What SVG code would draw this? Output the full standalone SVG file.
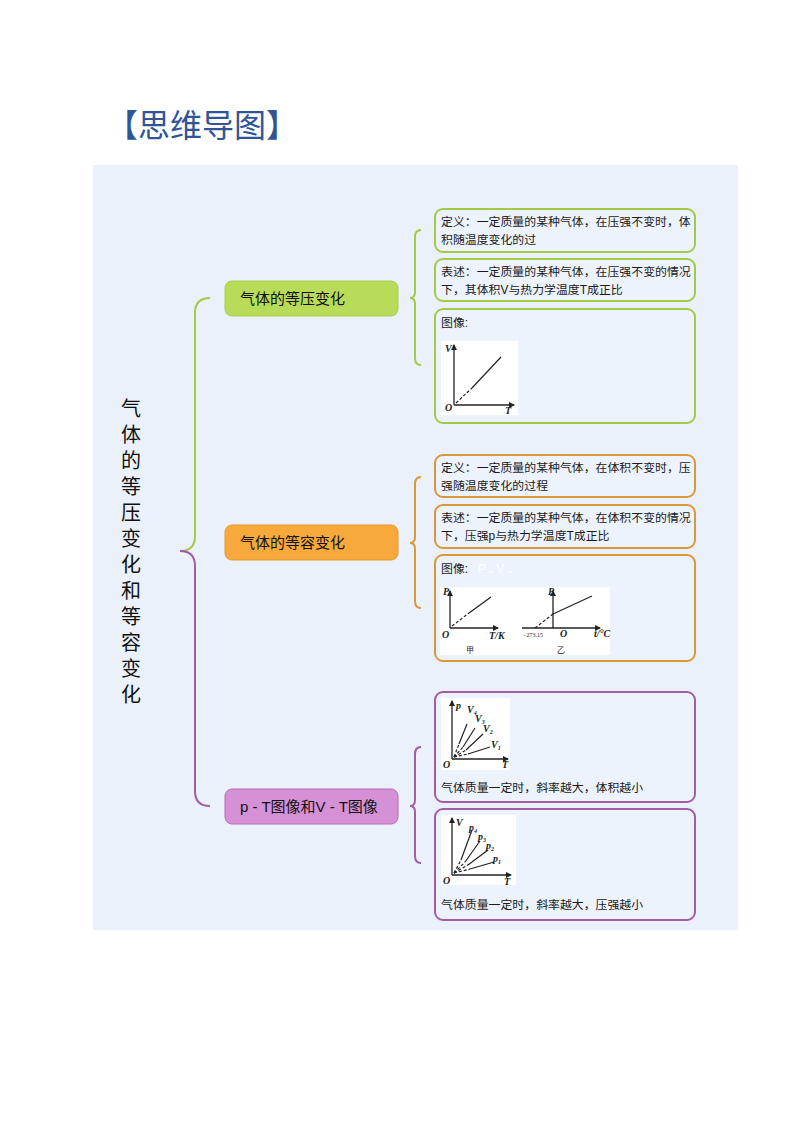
<svg xmlns="http://www.w3.org/2000/svg" width="800" height="1132" viewBox="0 0 800 1132">
<style>
.cjk{font-family:"Liberation Sans","Noto Sans CJK SC",sans-serif;}
.leaf{font-family:"Liberation Sans","Noto Sans CJK SC",sans-serif;font-size:11.9px;fill:#1a1a1a;}
.node{font-family:"Liberation Sans","Noto Sans CJK SC",sans-serif;font-size:15px;fill:#111;}
.gbox{fill:#edf3fc;stroke:#a3c94a;stroke-width:2;}
.obox{fill:#edf3fc;stroke:#d9983a;stroke-width:2;}
.pbox{fill:#edf3fc;stroke:#a45ca4;stroke-width:2;}
.ax{stroke:#222;stroke-width:1.3;fill:none;}
.ln{stroke:#222;stroke-width:1.2;fill:none;}
.dl{stroke:#222;stroke-width:1.2;fill:none;stroke-dasharray:3 2;}
.lab{font-family:"Liberation Serif",serif;font-style:italic;font-weight:bold;font-size:10px;fill:#222;}
.sub{font-family:"Liberation Serif",serif;font-size:6px;fill:#222;}
.conn{fill:none;stroke-width:2;}
</style>
<defs>
<marker id="arr" viewBox="0 0 6 6" refX="5" refY="3" markerWidth="5" markerHeight="5" orient="auto"><path d="M0,0 L6,3 L0,6 z" fill="#222"/></marker>
</defs>
<rect width="800" height="1132" fill="#ffffff"/>
<text x="106" y="137" class="cjk" font-size="32" fill="#2f5597">【思维导图】</text>
<rect x="93" y="165" width="645" height="765" fill="#eaf1fb"/>

<g id="root">
<text class="cjk" font-size="20" fill="#111" text-anchor="middle">
<tspan x="131" y="416">气</tspan><tspan x="131" y="442">体</tspan><tspan x="131" y="468">的</tspan><tspan x="131" y="494">等</tspan><tspan x="131" y="520">压</tspan><tspan x="131" y="546">变</tspan><tspan x="131" y="572">化</tspan><tspan x="131" y="598">和</tspan><tspan x="131" y="624">等</tspan><tspan x="131" y="650">容</tspan><tspan x="131" y="676">变</tspan><tspan x="131" y="702">化</tspan>
</text>
</g>

<g id="connectors">
<path class="conn" stroke="#a3c94a" d="M180,551 Q195,551 195,536 L195,313 Q195,298 210,298"/>
<path class="conn" stroke="#a45ca4" d="M180,551 Q195,551 195,566 L195,791 Q195,806 210,806"/>
<path class="conn" stroke="#a3c94a" d="M421,230 Q415,230 415,237 L415,292 Q415,298 410,298 Q415,298 415,304 L415,358 Q415,365 421,365"/>
<path class="conn" stroke="#d9983a" d="M421,477 Q415,477 415,484 L415,537 Q415,543 410,543 Q415,543 415,549 L415,601 Q415,608 421,608"/>
<path class="conn" stroke="#a45ca4" d="M421,747 Q415,747 415,754 L415,800 Q415,806 410,806 Q415,806 415,812 L415,856 Q415,863 421,863"/>
</g>

<g id="n1">
<rect x="225" y="281" width="173" height="35" rx="7" fill="#b8dc5a" stroke="#a8cf4c" stroke-width="1"/>
<text x="240" y="304" class="node">气体的等压变化</text>
</g>
<g id="n2">
<rect x="225" y="525" width="173" height="35" rx="7" fill="#f8a93b" stroke="#e9982c" stroke-width="1"/>
<text x="240" y="548" class="node">气体的等容变化</text>
</g>
<g id="n3">
<rect x="225" y="789" width="173" height="35" rx="7" fill="#d690d6" stroke="#b56bb5" stroke-width="1"/>
<text x="240" y="812" class="node">p - T图像和V - T图像</text>
</g>

<g id="g1">
<rect x="435" y="209" width="260" height="43" rx="8" class="gbox"/>
<text x="441" y="226" class="leaf">定义：一定质量的某种气体，在压强不变时，体</text>
<text x="441" y="244" class="leaf">积随温度变化的过</text>
</g>
<g id="g2">
<rect x="435" y="259" width="260" height="42" rx="8" class="gbox"/>
<text x="441" y="276" class="leaf">表述：一定质量的某种气体，在压强不变的情况</text>
<text x="441" y="294" class="leaf">下，其体积V与热力学温度T成正比</text>
</g>
<g id="g3">
<rect x="435" y="309" width="260" height="114" rx="8" class="gbox"/>
<text x="441" y="327" class="leaf">图像:</text>
<rect x="441" y="341" width="77" height="74" fill="#ffffff"/>
<line x1="454" y1="405" x2="454" y2="345" class="ax" marker-end="url(#arr)"/>
<line x1="454" y1="405" x2="514" y2="405" class="ax" marker-end="url(#arr)"/>
<line x1="456" y1="403" x2="472" y2="388" class="dl"/>
<line x1="472" y1="388" x2="501" y2="357" class="ln"/>
<text x="445" y="352" class="lab">V</text>
<text x="445" y="411" class="lab">O</text>
<text x="505" y="414" class="lab">T</text>
</g>

<g id="o1">
<rect x="435" y="455" width="260" height="42" rx="8" class="obox"/>
<text x="441" y="472" class="leaf">定义：一定质量的某种气体，在体积不变时，压</text>
<text x="441" y="490" class="leaf">强随温度变化的过程</text>
</g>
<g id="o2">
<rect x="435" y="505" width="260" height="43" rx="8" class="obox"/>
<text x="441" y="522" class="leaf">表述：一定质量的某种气体，在体积不变的情况</text>
<text x="441" y="540" class="leaf">下，压强p与热力学温度T成正比</text>
</g>
<g id="o3">
<rect x="435" y="555" width="260" height="106" rx="8" class="obox"/>
<text x="441" y="573" class="leaf">图像:</text>
<text x="478" y="573" class="leaf" fill="#ffffff" style="fill:#ffffff">P ₌ V ₌</text>
<rect x="440" y="587" width="170" height="68" fill="#ffffff"/>
<line x1="450" y1="628" x2="450" y2="591" class="ax" marker-end="url(#arr)"/>
<line x1="450" y1="628" x2="498" y2="628" class="ax" marker-end="url(#arr)"/>
<line x1="452" y1="626" x2="469" y2="613" class="dl"/>
<line x1="469" y1="613" x2="491" y2="597" class="ln"/>
<text x="443" y="595" class="lab" font-size="8">P</text>
<text x="442" y="638" class="lab" font-size="8">O</text>
<text x="489" y="639" class="lab" font-size="8" font-style="normal">T/K</text>
<text x="466" y="653" class="cjk" font-size="8" fill="#222">甲</text>
<line x1="553" y1="628" x2="553" y2="591" class="ax" marker-end="url(#arr)"/>
<line x1="522" y1="628" x2="600" y2="628" class="ax" marker-end="url(#arr)"/>
<line x1="535" y1="628" x2="553" y2="614" class="dl"/>
<line x1="553" y1="614" x2="592" y2="596" class="ln"/>
<text x="548" y="595" class="lab" font-size="8">P</text>
<text x="523" y="637" class="sub" font-size="7">−273.15</text>
<text x="560" y="637" class="lab" font-size="8">O</text>
<text x="594" y="637" class="lab" font-size="8" font-style="normal">t/°C</text>
<text x="557" y="653" class="cjk" font-size="8" fill="#222">乙</text>
</g>

<g id="p1">
<rect x="435" y="692" width="260" height="110" rx="8" class="pbox"/>
<rect x="441" y="698" width="69" height="72" fill="#ffffff"/>
<line x1="452" y1="759" x2="452" y2="701" class="ax" marker-end="url(#arr)"/>
<line x1="452" y1="759" x2="508" y2="759" class="ax" marker-end="url(#arr)"/>
<line x1="454" y1="757" x2="459" y2="744" class="dl"/><line x1="459" y1="744" x2="467" y2="724" class="ln"/>
<line x1="454" y1="757" x2="463" y2="747" class="dl"/><line x1="463" y1="747" x2="475" y2="728" class="ln"/>
<line x1="454" y1="757" x2="466" y2="750" class="dl"/><line x1="466" y1="750" x2="483" y2="734" class="ln"/>
<line x1="454" y1="757" x2="468" y2="754" class="dl"/><line x1="468" y1="754" x2="490" y2="747" class="ln"/>
<text x="456" y="709" class="lab" font-size="8">p</text>
<text x="467" y="713" class="lab" font-size="9" font-style="normal" font-weight="normal">V<tspan class="sub" font-size="5" dy="2">4</tspan></text>
<text x="475" y="722" class="lab" font-size="9" font-style="normal" font-weight="normal">V<tspan class="sub" font-size="5" dy="2">3</tspan></text>
<text x="483" y="732" class="lab" font-size="9" font-style="normal" font-weight="normal">V<tspan class="sub" font-size="5" dy="2">2</tspan></text>
<text x="491" y="748" class="lab" font-size="9" font-style="normal" font-weight="normal">V<tspan class="sub" font-size="5" dy="2">1</tspan></text>
<text x="443" y="768" class="lab">O</text>
<text x="502" y="768" class="lab" font-size="8">T</text>
<text x="441" y="792" class="leaf">气体质量一定时，斜率越大，体积越小</text>
</g>

<g id="p2">
<rect x="435" y="809" width="260" height="111" rx="8" class="pbox"/>
<rect x="441" y="815" width="75" height="70" fill="#ffffff"/>
<line x1="452" y1="875" x2="452" y2="818" class="ax" marker-end="url(#arr)"/>
<line x1="452" y1="875" x2="511" y2="875" class="ax" marker-end="url(#arr)"/>
<line x1="454" y1="873" x2="461" y2="860" class="dl"/><line x1="461" y1="860" x2="472" y2="830" class="ln"/>
<line x1="454" y1="873" x2="465" y2="862" class="dl"/><line x1="465" y1="862" x2="480" y2="841" class="ln"/>
<line x1="454" y1="873" x2="468" y2="865" class="dl"/><line x1="468" y1="865" x2="488" y2="850" class="ln"/>
<line x1="454" y1="873" x2="470" y2="869" class="dl"/><line x1="470" y1="869" x2="494" y2="862" class="ln"/>
<text x="456" y="826" class="lab" font-size="8">V</text>
<text x="469" y="831" class="lab" font-size="9">p<tspan class="sub" font-size="5" dy="2">4</tspan></text>
<text x="478" y="840" class="lab" font-size="9">p<tspan class="sub" font-size="5" dy="2">3</tspan></text>
<text x="486" y="849" class="lab" font-size="9">p<tspan class="sub" font-size="5" dy="2">2</tspan></text>
<text x="493" y="862" class="lab" font-size="9">p<tspan class="sub" font-size="5" dy="2">1</tspan></text>
<text x="443" y="884" class="lab">O</text>
<text x="504" y="885" class="lab" font-size="8">T</text>
<text x="441" y="909" class="leaf">气体质量一定时，斜率越大，压强越小</text>
</g>
</svg>
